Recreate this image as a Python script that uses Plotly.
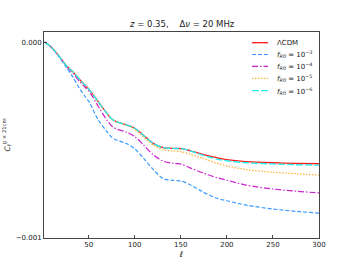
import plotly.graph_objects as go

ell = [2, 8, 15, 20, 26, 33, 40, 45, 51, 60, 70, 75, 80, 91, 100, 109, 120, 131,
       142, 151, 160, 174, 189, 200, 221, 250, 275, 300]

# values in units of -1e-3
lcdm = [0, 0.020, 0.055, 0.085, 0.122, 0.152, 0.190, 0.215, 0.245, 0.302, 0.365,
        0.393, 0.406, 0.423, 0.440, 0.474, 0.517, 0.539, 0.543, 0.544, 0.554,
        0.573, 0.590, 0.600, 0.610, 0.616, 0.619, 0.621]
f3 = [0, 0.020, 0.058, 0.090, 0.130, 0.180, 0.236, 0.270, 0.310, 0.395, 0.458,
      0.485, 0.500, 0.518, 0.545, 0.590, 0.650, 0.697, 0.706, 0.710, 0.728,
      0.765, 0.797, 0.810, 0.832, 0.852, 0.864, 0.873]
f4 = [0, 0.020, 0.056, 0.087, 0.125, 0.160, 0.200, 0.225, 0.255, 0.325, 0.400,
      0.428, 0.443, 0.460, 0.482, 0.522, 0.575, 0.608, 0.619, 0.624, 0.642,
      0.668, 0.692, 0.705, 0.730, 0.750, 0.761, 0.770]
f5 = [0, 0.020, 0.055, 0.085, 0.122, 0.152, 0.190, 0.215, 0.245, 0.302, 0.365,
      0.393, 0.406, 0.424, 0.445, 0.482, 0.525, 0.550, 0.556, 0.560, 0.572,
      0.594, 0.618, 0.632, 0.651, 0.664, 0.672, 0.679]
f6 = [0, 0.020, 0.055, 0.085, 0.122, 0.152, 0.190, 0.215, 0.245, 0.302, 0.365,
      0.393, 0.406, 0.423, 0.440, 0.474, 0.517, 0.539, 0.543, 0.544, 0.555,
      0.577, 0.597, 0.606, 0.616, 0.622, 0.626, 0.628]

names = ["ΛCDM",
         "<i>f</i><sub><i>R</i>0</sub> = 10<sup>−3</sup>",
         "<i>f</i><sub><i>R</i>0</sub> = 10<sup>−4</sup>",
         "<i>f</i><sub><i>R</i>0</sub> = 10<sup>−5</sup>",
         "<i>f</i><sub><i>R</i>0</sub> = 10<sup>−6</sup>"]
data = [lcdm, f3, f4, f5, f6]
colors = ["#ff1a1a", "#3d9bff", "#cc22cc", "#ffb640", "#22eeee"]
dashes = ["solid", "4px,2px", "6px,2px,1.5px,2px", "1.5px,1.5px", "7px,2px"]
widths = [1.3, 1.2, 1.2, 1.3, 1.3]

fig = go.Figure()
for name, vals, col, dash, w in zip(names, data, colors, dashes, widths):
    fig.add_trace(go.Scatter(
        x=ell, y=[-v * 1e-3 for v in vals], name=name, mode="lines",
        line=dict(color=col, dash=dash, width=w, shape="spline", smoothing=0.8),
        showlegend=False,
    ))

# manual legend (compact, matplotlib-like)
L, R, T, B = 44, 319, 32, 238
row_px = [42.7, 54.5, 66.4, 78.4, 90.6]
for name, col, dash, w, py in zip(names, colors, dashes, widths, row_px):
    yp = (B - py) / (B - T)
    fig.add_shape(type="line", xref="paper", yref="paper",
                  x0=(252 - L) / (R - L), x1=(268 - L) / (R - L), y0=yp, y1=yp,
                  line=dict(color=col, dash=dash, width=w))
    fig.add_annotation(xref="paper", yref="paper", x=(275 - L) / (R - L), y=yp,
                       xanchor="left", yanchor="middle", text=name, showarrow=False,
                       font=dict(size=7, color="#222"))

# title as a paper-anchored annotation
fig.add_annotation(xref="paper", yref="paper", x=0.5, y=(B - 24.5) / (B - T),
                   xanchor="center", yanchor="middle", showarrow=False,
                   text="<i>z</i> = 0.35,    Δ<i>ν</i> = 20 MHz",
                   font=dict(size=8.5, color="#222"))

axis_common = dict(
    showgrid=False, zeroline=False, showline=True, linecolor="#444",
    linewidth=1, mirror=True, ticks="inside", ticklen=3, tickcolor="#444",
    tickfont=dict(size=7, color="#222"), automargin=False,
)

fig.update_layout(
    template="none",
    width=355, height=273,
    margin=dict(l=L, r=355 - R, t=T, b=273 - B, pad=0),
    paper_bgcolor="white", plot_bgcolor="white",
    font=dict(family="DejaVu Sans", color="#222"),
    xaxis=dict(range=[1.5, 300], tickvals=[50, 100, 150, 200, 250, 300],
               title=dict(text="<i>ℓ</i>", font=dict(size=8), standoff=2), **axis_common),
    yaxis=dict(range=[-0.001, 0.0000515], tickvals=[0, -0.001],
               ticktext=["0.000", "−0.001"],
               title=dict(text="<i>C</i><sub><i>ℓ</i></sub><sup>g × 21cm</sup>",
                          font=dict(size=7.5), standoff=4), **axis_common),
    showlegend=False,
)

fig.write_html("out.html", config={"displayModeBar": False},
               post_script="document.body.style.margin='0';document.body.style.padding='0';")
